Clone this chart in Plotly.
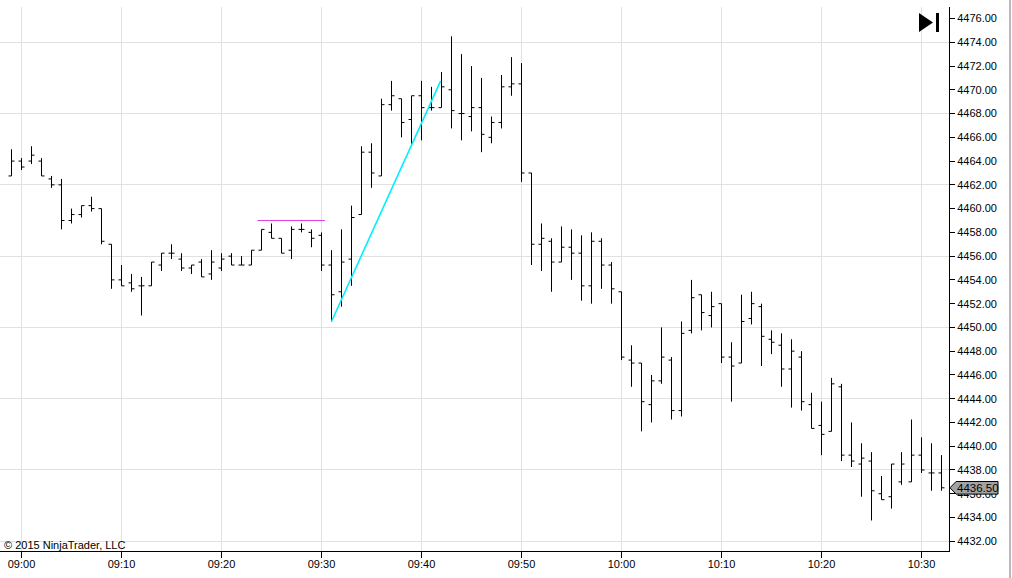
import pandas as pd
import plotly.graph_objects as go

# ---------------- data (1-minute bars, 08:59 .. 10:32) ----------------
start_time = "2015-01-02 08:59"

opens = [4462.75, 4464.0, 4464.0, 4464.0, 4462.5, 4462.0, 4459.0, 4459.5, 4460.25, 4460.0,
         4457.0, 4454.0, 4453.75, 4453.5, 4453.5, 4455.25, 4456.25, 4455.75, 4455.0, 4455.5,
         4454.5, 4455.0, 4456.0, 4455.25, 4455.25, 4456.5, 4458.0, 4457.5, 4456.5, 4458.25,
         4458.0, 4457.75, 4455.25, 4453.0, 4455.75, 4459.5, 4464.75, 4462.75, 4468.75, 4469.25,
         4467.5, 4469.5, 4468.5, 4468.5, 4470.0, 4468.0, 4467.75, 4468.5, 4466.0, 4467.25,
         4470.25, 4470.5, 4463.0, 4457.0, 4457.25, 4455.5, 4456.75, 4456.25, 4453.5, 4457.25,
         4455.25, 4453.0, 4447.25, 4447.0, 4443.5, 4445.5, 4447.25, 4443.0, 4449.75, 4452.75,
         4451.0, 4452.0, 4447.5, 4447.0, 4450.75, 4451.75, 4449.0, 4448.5, 4446.5, 4447.5,
         4443.5, 4441.75, 4441.25, 4445.0, 4439.25, 4438.5, 4438.75, 4436.0, 4435.75, 4437.0,
         4437.0, 4439.25, 4437.75, 4437.75]
highs = [4465.0, 4464.25, 4465.25, 4464.25, 4462.75, 4462.5, 4460.0, 4460.25, 4461.0, 4460.0,
         4457.0, 4455.25, 4454.5, 4454.25, 4455.5, 4456.25, 4457.0, 4456.25, 4455.25, 4455.75,
         4456.5, 4456.25, 4456.25, 4456.0, 4456.5, 4458.25, 4458.75, 4457.5, 4458.5, 4458.75,
         4458.25, 4458.0, 4456.5, 4458.25, 4460.25, 4465.25, 4465.5, 4469.25, 4470.75, 4469.25,
         4469.5, 4470.75, 4470.25, 4471.5, 4474.5, 4473.0, 4472.0, 4471.0, 4467.75, 4471.25,
         4472.75, 4472.25, 4463.0, 4458.75, 4457.5, 4458.5, 4458.25, 4457.75, 4458.0, 4457.5,
         4455.5, 4453.0, 4448.5, 4447.0, 4446.0, 4450.0, 4447.5, 4450.5, 4454.0, 4452.75,
         4453.0, 4452.0, 4448.75, 4452.75, 4453.0, 4452.0, 4449.75, 4449.5, 4449.0, 4448.0,
         4444.5, 4443.75, 4445.75, 4445.25, 4442.0, 4440.25, 4439.5, 4437.5, 4438.5, 4439.5,
         4442.25, 4440.75, 4440.25, 4439.25]
lows = [4462.75, 4463.25, 4463.75, 4462.75, 4461.75, 4458.25, 4458.75, 4459.25, 4459.75, 4457.0,
        4453.25, 4453.5, 4453.0, 4451.0, 4453.5, 4454.75, 4455.75, 4454.75, 4454.5, 4454.25,
        4454.0, 4454.75, 4455.25, 4455.25, 4455.25, 4456.5, 4457.5, 4456.25, 4455.75, 4458.0,
        4456.75, 4454.75, 4450.5, 4451.75, 4453.5, 4459.5, 4461.75, 4462.75, 4468.25, 4466.0,
        4465.25, 4465.75, 4468.25, 4468.5, 4466.75, 4465.75, 4466.5, 4464.75, 4465.5, 4466.75,
        4469.5, 4462.25, 4455.25, 4454.75, 4453.0, 4455.5, 4454.0, 4452.25, 4452.0, 4453.25,
        4452.0, 4447.25, 4445.0, 4441.25, 4442.0, 4445.25, 4442.25, 4442.5, 4449.5, 4449.75,
        4450.0, 4447.0, 4443.75, 4447.0, 4450.25, 4446.75, 4447.75, 4445.0, 4443.25, 4443.0,
        4441.5, 4439.25, 4441.25, 4438.75, 4438.25, 4435.75, 4433.75, 4435.5, 4434.75, 4436.75,
        4437.0, 4437.75, 4436.25, 4436.25]
closes = [4464.0, 4463.5, 4464.5, 4462.75, 4462.0, 4459.0, 4459.5, 4460.25, 4460.0, 4457.25,
          4454.0, 4453.5, 4453.25, 4453.5, 4455.5, 4456.25, 4456.25, 4455.0, 4455.25, 4454.25,
          4455.5, 4455.75, 4455.25, 4455.25, 4456.5, 4458.25, 4457.5, 4456.25, 4458.25, 4458.25,
          4457.5, 4455.25, 4452.75, 4455.5, 4459.25, 4464.75, 4463.0, 4468.75, 4469.5, 4467.25,
          4469.5, 4468.5, 4468.5, 4470.25, 4468.25, 4468.0, 4468.5, 4466.25, 4467.25, 4470.25,
          4470.5, 4463.0, 4457.0, 4457.5, 4455.5, 4456.75, 4456.25, 4453.5, 4457.25, 4455.25,
          4453.25, 4447.5, 4447.0, 4443.75, 4445.5, 4447.5, 4443.0, 4449.5, 4452.5, 4451.25,
          4451.75, 4447.5, 4446.75, 4450.5, 4452.0, 4449.25, 4448.75, 4446.5, 4448.0, 4443.75,
          4441.5, 4441.0, 4445.25, 4439.25, 4438.75, 4439.0, 4436.25, 4435.5, 4438.5, 4438.5,
          4439.25, 4438.0, 4437.75, 4436.5]

# drawing objects on the chart
cyan_times = ["2015-01-02 09:31:00", "2015-01-02 09:41:55"]
cyan_prices = [4450.5, 4470.75]
magenta_times = ["2015-01-02 09:23:36", "2015-01-02 09:30:20"]
magenta_prices = [4459.0, 4459.0]

times = pd.date_range(start_time, periods=len(closes), freq="1min")

# ---------------- layout geometry ----------------
W, H = 1012, 578
PLOT_L, PLOT_R, PLOT_T, PLOT_B = 0, 949, 7, 551
x_range = ["2015-01-02 08:57:51", "2015-01-02 10:32:45"]
y_range = [4431.18, 4476.97]
GRID = "#e1e1e1"
FONT = "Liberation Sans, Arial, sans-serif"


def px_x(p):
    return (p - PLOT_L) / (PLOT_R - PLOT_L)


def px_y(p):
    return (PLOT_B - p) / (PLOT_B - PLOT_T)


fig = go.Figure()

fig.add_trace(go.Ohlc(
    x=times, open=opens, high=highs, low=lows, close=closes,
    increasing=dict(line=dict(color="black", width=1)),
    decreasing=dict(line=dict(color="black", width=1)),
    tickwidth=0.3, showlegend=False, hoverinfo="skip",
))

fig.add_trace(go.Scatter(
    x=magenta_times, y=magenta_prices, mode="lines",
    line=dict(color="#e040e0", width=1), showlegend=False, hoverinfo="skip",
))
fig.add_trace(go.Scatter(
    x=cyan_times, y=cyan_prices, mode="lines",
    line=dict(color="#00f0ff", width=1.6), showlegend=False, hoverinfo="skip",
))

shapes = []
# "go to end" icon (triangle + bar) at top right of the plot
shapes.append(dict(type="path", xref="paper", yref="paper",
                   path=f"M {px_x(919)} {px_y(13)} L {px_x(919)} {px_y(32)} L {px_x(933)} {px_y(22.5)} Z",
                   fillcolor="black", line=dict(width=0)))
shapes.append(dict(type="rect", xref="paper", yref="paper",
                   x0=px_x(936), x1=px_x(939), y0=px_y(32), y1=px_y(13),
                   fillcolor="black", line=dict(width=0)))
# last price marker on the price axis
shapes.append(dict(type="path", xref="paper", yref="y",
                   xsizemode="pixel", xanchor=1, ysizemode="pixel", yanchor=closes[-1],
                   path="M 1 0 L 7 6.3 L 49 6.3 L 49 -6.3 L 7 -6.3 Z",
                   fillcolor="#a3a3a3", line=dict(color="black", width=1), layer="above"))
# window border on the far right
shapes.append(dict(type="line", xref="paper", yref="paper",
                   x0=px_x(1010), x1=px_x(1010), y0=px_y(578), y1=px_y(0),
                   line=dict(color="#b9b9b9", width=2)))

annotations = [
    dict(text="© 2015 NinjaTrader, LLC", xref="paper", yref="paper",
         x=px_x(2), y=px_y(545), xanchor="left", yanchor="middle", showarrow=False,
         font=dict(family=FONT, size=11, color="black")),
    dict(text=f"{closes[-1]:.2f}", xref="paper", yref="y",
         x=px_x(977.5), y=closes[-1], xanchor="center", yanchor="middle", showarrow=False,
         font=dict(family=FONT, size=11.5, color="black")),
]

fig.update_layout(
    width=W, height=H,
    margin=dict(l=PLOT_L, r=W - PLOT_R, t=PLOT_T, b=H - PLOT_B),
    paper_bgcolor="white", plot_bgcolor="white",
    font=dict(family=FONT, size=11, color="black"),
    showlegend=False,
    shapes=shapes, annotations=annotations,
    xaxis=dict(
        type="date", range=x_range, rangeslider=dict(visible=False),
        tickformat="%H:%M", dtick=600000, tick0="2015-01-02 09:00",
        showgrid=True, gridcolor=GRID, gridwidth=1,
        showline=True, linecolor="black", linewidth=1,
        ticks="outside", ticklen=6, tickcolor="black", ticklabelstandoff=-3,
        tickfont=dict(family=FONT, size=11, color="black"),
        zeroline=False, fixedrange=True,
    ),
    yaxis=dict(
        range=y_range, side="right", dtick=2, tick0=4432, tickformat=".2f",
        showgrid=False, showline=True, linecolor="black", linewidth=1,
        ticks="outside", ticklen=5, tickcolor="black",
        tickfont=dict(family=FONT, size=11, color="black"),
        zeroline=False, fixedrange=True,
    ),
    yaxis2=dict(
        range=y_range, overlaying="y", side="right", dtick=6, tick0=4432,
        showgrid=True, gridcolor=GRID, gridwidth=1,
        showticklabels=False, ticks="", showline=False, zeroline=False, fixedrange=True,
    ),
)

# invisible trace to activate the grid axis
fig.add_trace(go.Scatter(x=[times[0]], y=[closes[0]], yaxis="y2", mode="markers",
                         marker=dict(opacity=0), showlegend=False, hoverinfo="skip"))

fig.write_html("out.html", post_script="document.body.style.margin='0';",
               config={"displayModeBar": False})
